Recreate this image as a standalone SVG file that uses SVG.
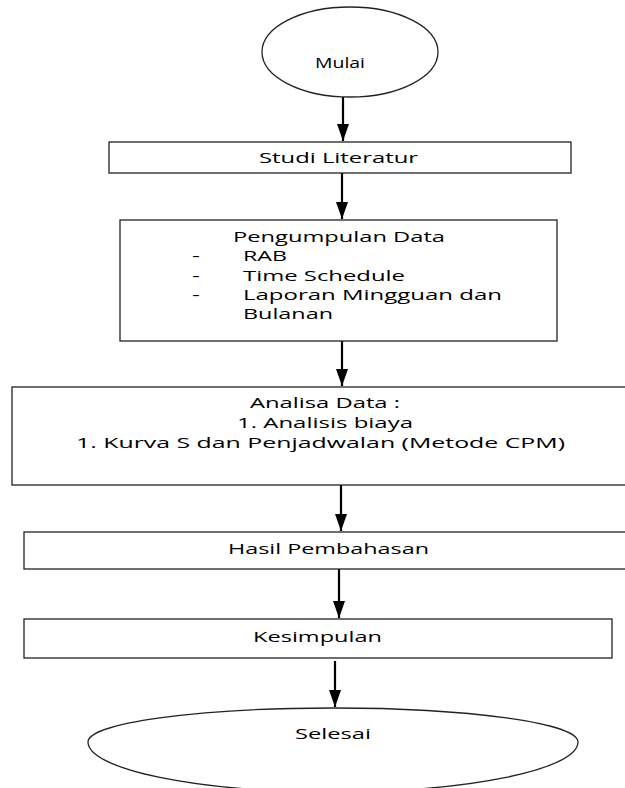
<svg xmlns="http://www.w3.org/2000/svg" width="625" height="788" viewBox="0 0 625 788">
<style>
.box{fill:#fff;stroke:#222;stroke-width:1.3}
.t{font-family:"Open Sans","Liberation Sans",sans-serif;font-size:15px;fill:#000}
.c{stroke:#000;stroke-width:2.2;fill:none}
</style>
<defs>
<marker id="ah" markerUnits="userSpaceOnUse" markerWidth="18" markerHeight="12" viewBox="0 0 18 12" refX="17" refY="6" orient="auto">
<path d="M0,0 L17,6 L0,12 Z" fill="#000"/>
</marker>
</defs>
<rect width="625" height="788" fill="#fff"/>
<g id="connectors">
<line class="c" x1="343" y1="97" x2="343" y2="141" marker-end="url(#ah)"/>
<line class="c" x1="342" y1="173" x2="342" y2="219" marker-end="url(#ah)"/>
<line class="c" x1="342" y1="341" x2="342" y2="386" marker-end="url(#ah)"/>
<line class="c" x1="341" y1="485" x2="341" y2="531" marker-end="url(#ah)"/>
<line class="c" x1="339" y1="569" x2="339" y2="618" marker-end="url(#ah)"/>
<line class="c" x1="335" y1="661" x2="335" y2="707" marker-end="url(#ah)"/>
</g>
<g id="mulai">
<ellipse class="box" cx="350" cy="52" rx="88" ry="45"/>
<text class="t" x="315" y="68" textLength="50" lengthAdjust="spacingAndGlyphs">Mulai</text>
</g>
<g id="studi">
<rect class="box" x="109" y="142" width="462" height="31"/>
<text class="t" x="259" y="163" textLength="159" lengthAdjust="spacingAndGlyphs">Studi Literatur</text>
</g>
<g id="pengumpulan">
<rect class="box" x="120" y="220" width="437" height="121"/>
<text class="t" x="233" y="242" textLength="212" lengthAdjust="spacingAndGlyphs">Pengumpulan Data</text>
<text class="t" x="192" y="261" textLength="8" lengthAdjust="spacingAndGlyphs">-</text>
<text class="t" x="243" y="261" textLength="44" lengthAdjust="spacingAndGlyphs">RAB</text>
<text class="t" x="192" y="281" textLength="8" lengthAdjust="spacingAndGlyphs">-</text>
<text class="t" x="243" y="281" textLength="162" lengthAdjust="spacingAndGlyphs">Time Schedule</text>
<text class="t" x="192" y="300" textLength="8" lengthAdjust="spacingAndGlyphs">-</text>
<text class="t" x="243" y="300" textLength="259" lengthAdjust="spacingAndGlyphs">Laporan Mingguan dan</text>
<text class="t" x="243" y="319" textLength="90" lengthAdjust="spacingAndGlyphs">Bulanan</text>
</g>
<g id="analisa">
<rect class="box" x="12" y="387" width="620" height="98"/>
<text class="t" x="250" y="408" textLength="150" lengthAdjust="spacingAndGlyphs">Analisa Data :</text>
<text class="t" x="237" y="428" textLength="176" lengthAdjust="spacingAndGlyphs">1. Analisis biaya</text>
<text class="t" x="76" y="448" textLength="489" lengthAdjust="spacingAndGlyphs">1. Kurva S dan Penjadwalan (Metode CPM)</text>
</g>
<g id="hasil">
<rect class="box" x="24" y="532" width="608" height="37"/>
<text class="t" x="228" y="554" textLength="201" lengthAdjust="spacingAndGlyphs">Hasil Pembahasan</text>
</g>
<g id="kesimpulan">
<rect class="box" x="24" y="619" width="588" height="39"/>
<text class="t" x="253" y="642" textLength="129" lengthAdjust="spacingAndGlyphs">Kesimpulan</text>
</g>
<g id="selesai">
<path class="box" d="M88,742 A245,34 0 0 1 578,742 A245,50 0 0 1 88,742 Z"/>
<text class="t" x="295" y="739" textLength="76" lengthAdjust="spacingAndGlyphs">Selesai</text>
</g>
</svg>
